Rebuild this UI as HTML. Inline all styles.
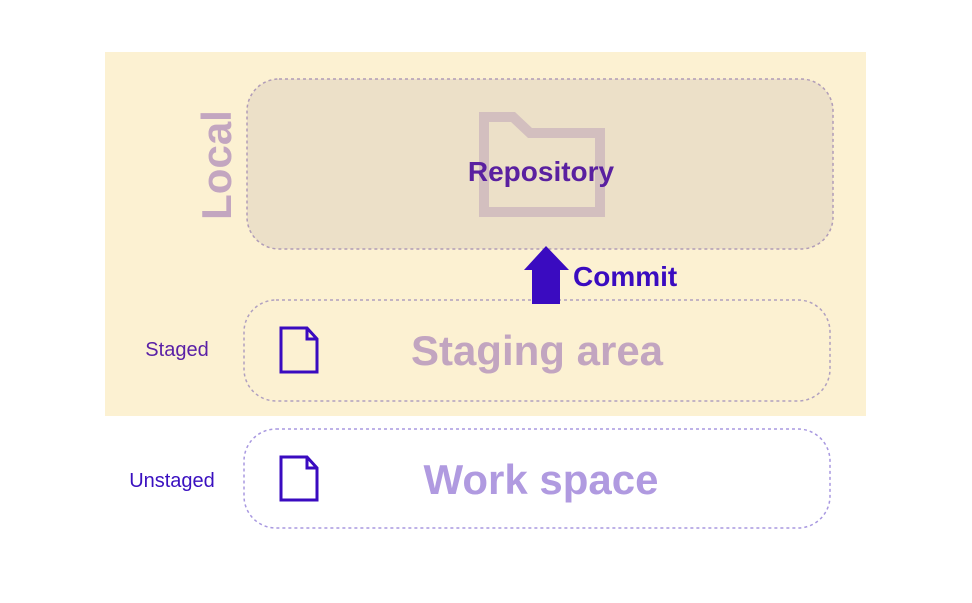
<!DOCTYPE html>
<html><head><style>
body{margin:0;background:#fff;width:972px;height:598px;overflow:hidden}
text{font-family:"Liberation Sans",sans-serif;font-weight:bold}
</style></head><body>
<svg width="972" height="598" viewBox="0 0 972 598" xmlns="http://www.w3.org/2000/svg">
<rect x="105" y="52" width="761" height="364" fill="#fcf1d2"/>
<rect x="247" y="79" width="586" height="170" rx="32" fill="#ece0c8" stroke="#b09cb8" stroke-width="1.5" stroke-dasharray="3,3"/>
<path d="M484 117 H513 L530 133 H600 V212 H484 Z" fill="none" stroke="#d3bfbf" stroke-width="10"/>
<text x="541" y="181" font-size="28" fill="#5a20a0" text-anchor="middle">Repository</text>
<text transform="translate(231,165) rotate(-90)" font-size="42" fill="#c3a6c0" text-anchor="middle">Local</text>
<rect x="244" y="300" width="586" height="101" rx="32" fill="none" stroke="#b0a0c0" stroke-width="1.5" stroke-dasharray="3,3"/>
<rect x="244" y="429" width="586" height="99" rx="32" fill="none" stroke="#a898e0" stroke-width="1.5" stroke-dasharray="3,3"/>
<polygon points="546,246 569,270 560,270 560,304 532,304 532,270 524,270" fill="#3a0bc0"/>
<text x="573" y="286" font-size="28" fill="#3a0bc0">Commit</text>
<path d="M281 328 H307 L317 339 V372 H281 Z M307 328 V339 H317" fill="none" stroke="#3a0bc0" stroke-width="3"/>
<path d="M281 457 H307 L317 468 V500 H281 Z M307 457 V468 H317" fill="none" stroke="#3a0bc0" stroke-width="3"/>
<text x="537" y="365" font-size="42" fill="#c2a5c0" text-anchor="middle">Staging area</text>
<text x="541" y="494" font-size="42" fill="#b09ae0" text-anchor="middle">Work space</text>
<text x="177" y="356" font-size="20" style="font-weight:normal" fill="#5a20a6" text-anchor="middle">Staged</text>
<text x="172" y="487" font-size="20" style="font-weight:normal" fill="#3a10c0" text-anchor="middle">Unstaged</text>
</svg>
</body></html>
